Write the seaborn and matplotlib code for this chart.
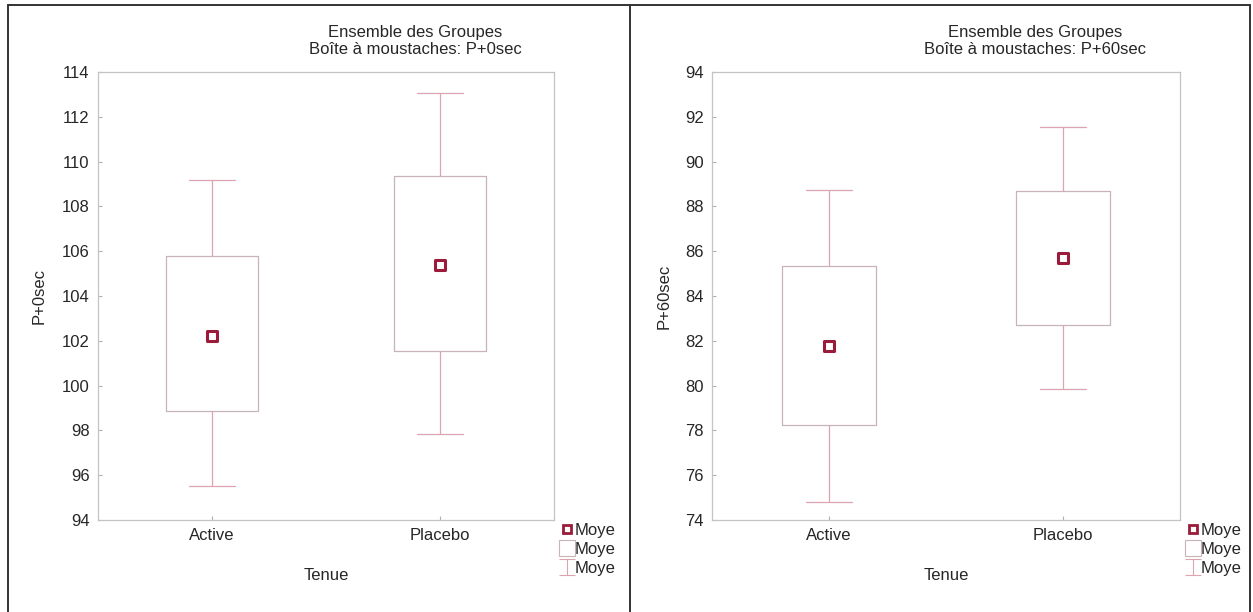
import numpy as np
import pandas as pd
import seaborn as sns
import matplotlib.pyplot as plt
from matplotlib.lines import Line2D
from matplotlib.path import Path

sns.set_style("white")
plt.rcParams['font.family'] = ['Liberation Sans', 'DejaVu Sans']

groups = ["Active", "Placebo"]
# P+0sec : whisker low, box low, mean, box high, whisker high
p0_low = [95.5, 97.85]
p0_q1 = [98.85, 101.55]
p0_mean = [102.2, 105.4]
p0_q3 = [105.8, 109.35]
p0_high = [109.2, 113.05]
# P+60sec
p60_low = [74.8, 79.85]
p60_q1 = [78.25, 82.7]
p60_mean = [81.75, 85.7]
p60_q3 = [85.35, 88.7]
p60_high = [88.75, 91.55]

box_col = "#c8b4b8"
whisk_col = "#dca4b0"
mean_col = "#9b1b3a"
fs = 12


def make_df(low, q1, mean, q3, high):
    rows = []
    for i, g in enumerate(groups):
        for v in (low[i], q1[i], mean[i], q3[i], high[i]):
            rows.append({"Tenue": g, "val": v})
    return pd.DataFrame(rows)


fig = plt.figure(figsize=(12.53, 6.12), dpi=100)
ax1 = fig.add_axes([98 / 1253, 92 / 612, 456 / 1253, 448 / 612])
ax2 = fig.add_axes([712 / 1253, 92 / 612, 468 / 1253, 448 / 612])

panels = [
    (ax1, make_df(p0_low, p0_q1, p0_mean, p0_q3, p0_high), p0_mean,
     "P+0sec", (94, 114), -0.112, 415),
    (ax2, make_df(p60_low, p60_q1, p60_mean, p60_q3, p60_high), p60_mean,
     "P+60sec", (74, 94), -0.087, 1035),
]

for ax, df, means, name, ylim, ylab_x, title_x in panels:
    sns.boxplot(data=df, x="Tenue", y="val", whis=(0, 100), width=0.4,
                fill=False, color=box_col, linewidth=0.9,
                boxprops=dict(color=box_col, linewidth=0.9),
                whiskerprops=dict(color=whisk_col, linewidth=0.9),
                capprops=dict(color=whisk_col, linewidth=0.9),
                medianprops=dict(linewidth=0), showfliers=False, ax=ax)
    mdf = pd.DataFrame({"Tenue": groups, "val": means})
    sns.stripplot(data=mdf, x="Tenue", y="val", jitter=False, marker="s",
                  size=7, color="white", edgecolor=mean_col, linewidth=2.2,
                  ax=ax, zorder=5)
    ax.set_xlim(-0.5, 1.5)
    ax.set_ylim(*ylim)
    ax.set_yticks(np.arange(ylim[0], ylim[1] + 1, 2))
    ax.set_xlabel("Tenue", fontsize=fs)
    ax.set_ylabel(name, fontsize=fs)
    ax.xaxis.set_label_coords(0.5, -0.107)
    ax.yaxis.set_label_coords(ylab_x, 0.5)
    ax.tick_params(direction="in", length=3, color="#b0b0b0", labelsize=fs,
                   left=True, bottom=True, pad=6)
    for sp in ax.spines.values():
        sp.set_color("#c4c4c4")
        sp.set_linewidth(0.9)

    fig.text(title_x / 1253, 1 - 32 / 612, "Ensemble des Groupes",
             ha="center", va="center", fontsize=fs)
    fig.text(title_x / 1253, 1 - 50 / 612, "Boîte à moustaches: " + name,
             ha="center", va="center", fontsize=fs)

    whisk_marker = Path([(-1, 1), (1, 1), (0, 1), (0, -1), (-1, -1), (1, -1)],
                        [Path.MOVETO, Path.LINETO, Path.MOVETO, Path.LINETO,
                         Path.MOVETO, Path.LINETO])
    handles = [
        Line2D([], [], ls="", marker="s", markersize=6, markerfacecolor="white",
               markeredgecolor=mean_col, markeredgewidth=2),
        Line2D([], [], ls="", marker="s", markersize=11, markerfacecolor="white",
               markeredgecolor=box_col, markeredgewidth=0.8),
        Line2D([], [], ls="", marker=whisk_marker, markersize=11,
               markeredgecolor=whisk_col, markeredgewidth=0.8),
    ]
    ax.legend(handles, ["Moye", "Moye", "Moye"], loc="upper left",
              bbox_to_anchor=(0.995, 0.012), frameon=False, handlelength=0.8,
              handletextpad=0.1, labelspacing=0.25, borderaxespad=0.1,
              fontsize=fs)

# panel frames
for x in (8, 630, 1250):
    fig.add_artist(Line2D([x / 1253, x / 1253], [0, 1 - 5 / 612],
                          color="#333333", linewidth=1.4))
fig.add_artist(Line2D([8 / 1253, 1250 / 1253], [1 - 5 / 612, 1 - 5 / 612],
                      color="#333333", linewidth=1.4))

fig.savefig("out.png", dpi=100)
